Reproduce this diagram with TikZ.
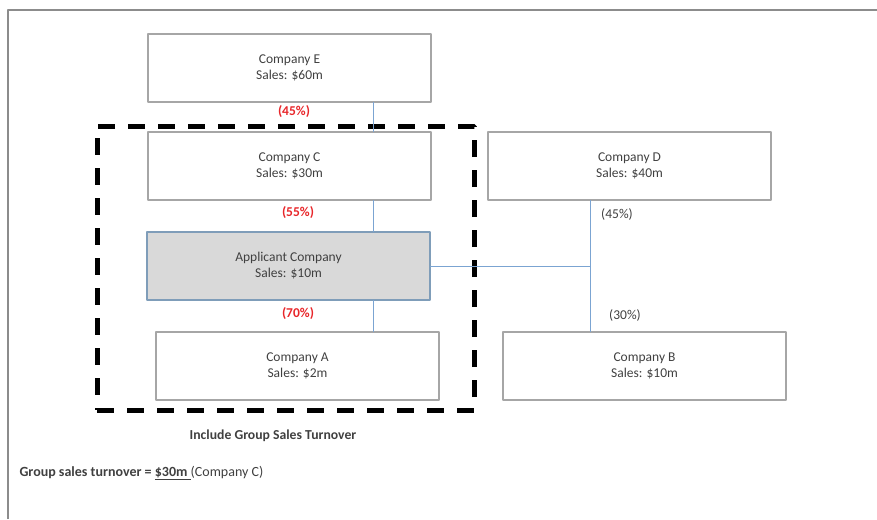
\documentclass[tikz,border=0pt]{standalone}
\usepackage{fontspec}
\setmainfont{Carlito}
\usetikzlibrary{positioning}
\definecolor{boxline}{HTML}{A6A6A6}
\definecolor{appline}{HTML}{7F9DB9}
\definecolor{appfill}{HTML}{D9D9D9}
\definecolor{linkblue}{HTML}{7BA4D2}
\definecolor{txtgray}{HTML}{404040}
\definecolor{pctred}{HTML}{E8262A}
\definecolor{frame}{HTML}{8C8C8C}

\begin{document}
\begin{tikzpicture}[x=1pt, y=1pt, line join=bevel,
        company/.style={draw=boxline, line width=1.2pt, outer sep=0pt, minimum width=283pt, minimum height=68pt, inner sep=0pt, text=txtgray, font=\fontsize{13.5}{16}\selectfont},
        applicant/.style={company, draw=appline, fill=appfill},
        link/.style={draw=linkblue, line width=1pt},
        redpct/.style={text=pctred, font=\fontsize{13.5}{16}\selectfont\bfseries},
        graypct/.style={text=txtgray, font=\fontsize{13.5}{16}\selectfont},
        groupbox/.style={draw=black, line width=5pt, dash pattern=on 17pt off 13pt, minimum width=377pt, minimum height=284pt}]
	     %
             \useasboundingbox (0,0) rectangle (877,-519);
             \draw[frame, line width=1.5pt] (8,-519) -- (8,-10) -- (877,-10);
             %
             \node[company](e) at (289.5,-68) {\begin{tabular}{c}Company E\\ Sales: \$60m\end{tabular}};
             \node[company, below=30pt of e](c){\begin{tabular}{c}Company C\\ Sales: \$30m\end{tabular}};
             \node[applicant, below=32pt of c, xshift=-1pt](app){\begin{tabular}{c}Applicant Company\\ Sales: \$10m\end{tabular}};
             \node[company, below=32pt of app, xshift=9pt](a){\begin{tabular}{c}Company A\\ Sales: \$2m\end{tabular}};
             \node[company, right=57pt of c](d){\begin{tabular}{c}Company D\\ Sales: \$40m\end{tabular}};
             \node[company, right=64pt of a](b){\begin{tabular}{c}Company B\\ Sales: \$10m\end{tabular}};
             %
             \node[groupbox] (grp) at (285.5,-268) {};
             \node[font=\fontsize{13.7}{16}\selectfont\bfseries, text=txtgray] (grplabel) at ([xshift=-12.5pt, yshift=-23pt]grp.south) {Include Group Sales Turnover};
             %
             \coordinate (trunk) at ([xshift=84pt]e.south);
             \coordinate (branch) at ([xshift=-39.5pt]d.south);
             \path[link] (trunk) edge[] (c.north -| trunk);
             \path[link] (c.south -| trunk) edge[] (app.north -| trunk);
             \path[link] (app.south -| trunk) edge[] (a.north -| trunk);
             \path[link] (branch) edge[] (b.north -| branch);
             \path[link] (app.east) edge[] (app.east -| branch);
             %
             \node[redpct] (pe) at ([xshift=4.5pt, yshift=-10pt]e.south) {(45\%)};
             \node[redpct] (pc) at ([xshift=8.5pt, yshift=-13pt]c.south) {(55\%)};
             \node[redpct] (papp) at ([xshift=9.5pt, yshift=-13.5pt]app.south) {(70\%)};
             \node[graypct] (pd) at ([xshift=-12.5pt, yshift=-14pt]d.south) {(45\%)};
             \node[graypct] (pb) at ([xshift=-19.5pt, yshift=17pt]b.north) {(30\%)};
             %
             \node[anchor=west, text=txtgray, font=\fontsize{14}{16}\selectfont] (total) at (16,-473) {\textbf{Group sales turnover = \underline{\$30m }}(Company C)};
          \end{tikzpicture}
\end{document}
